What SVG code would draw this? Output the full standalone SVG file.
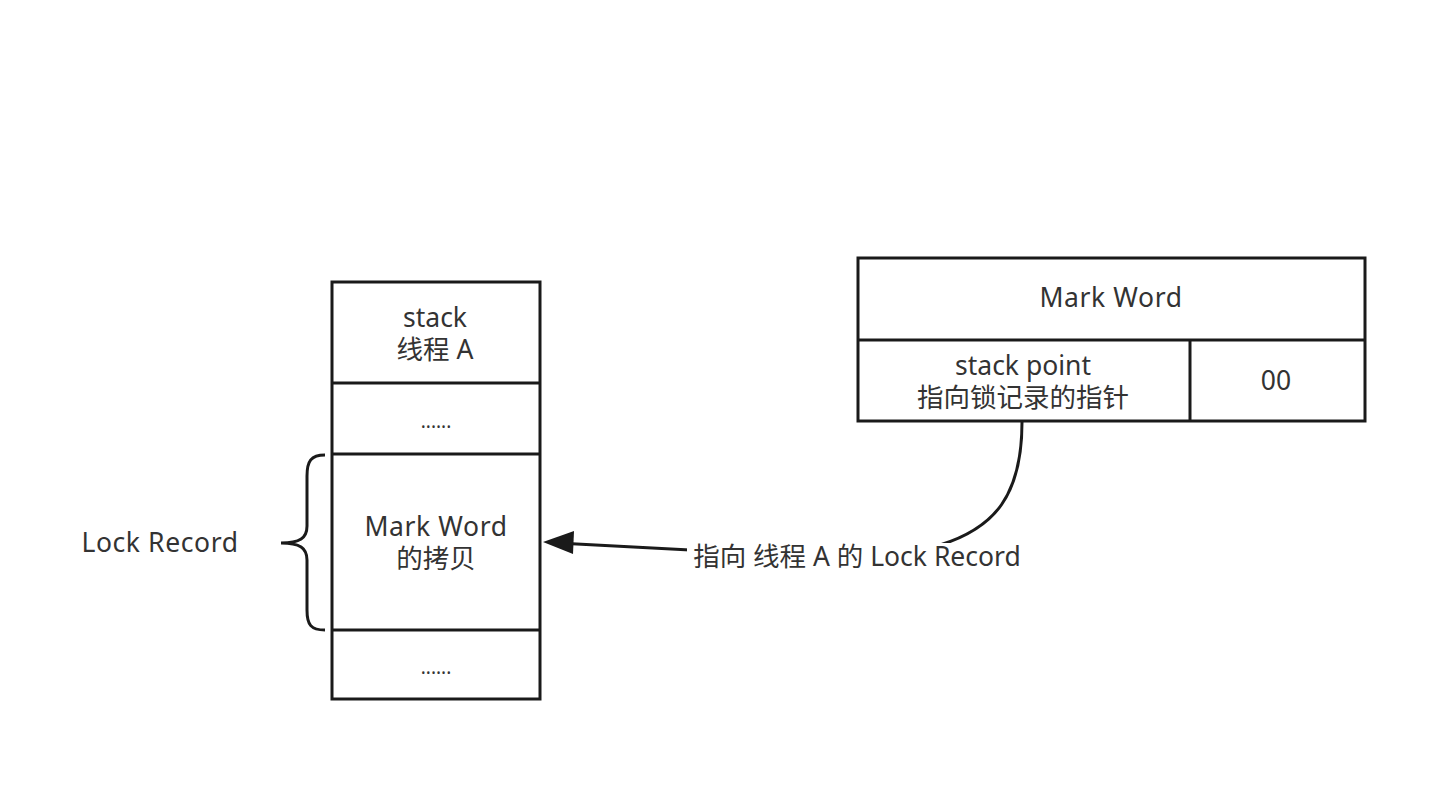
<svg xmlns="http://www.w3.org/2000/svg" width="1442" height="794" viewBox="0 0 1442 794">
<style>
.box{fill:#fff;stroke:#1a1a1a;stroke-width:3}
.ln{fill:none;stroke:#1a1a1a;stroke-width:3}
.t{font-family:"Noto Sans","Noto Sans CJK SC",sans-serif;font-size:26.5px;fill:#333;text-anchor:middle;dominant-baseline:central}
.w{letter-spacing:0.6px}
.d{font-family:"Noto Sans",sans-serif;font-size:19px;fill:#333;text-anchor:middle}
</style>
<rect width="1442" height="794" fill="#fff"/>
<g id="connectors">
<path class="ln" d="M1022,422 C1022,495 995,528 940,545 Q 820,553 690,550 L572,543.8"/>
<path d="M543,542 L574,531 L573,554 Z" fill="#1a1a1a"/>
</g>
<g id="stack">
<rect class="box" x="332" y="282" width="208" height="417"/>
<line class="ln" x1="332" y1="383" x2="540" y2="383"/>
<line class="ln" x1="332" y1="454" x2="540" y2="454"/>
<line class="ln" x1="332" y1="630" x2="540" y2="630"/>
<text class="t" x="435" y="317">stack</text>
<text class="t" x="435" y="349">线程 A</text>
<text class="d" x="436" y="428">......</text>
<text class="t w" x="436" y="526">Mark Word</text>
<text class="t" x="436" y="558">的拷贝</text>
<text class="d" x="436" y="674">......</text>
</g>
<g id="brace">
<path class="ln" d="M325,455 C311,455 307,461 307,476 L307,526 C307,538 300,543 281,543 C300,543 307,548 307,560 L307,610 C307,625 311,630 325,630"/>
</g>
<g id="lock-record-label">
<text class="t w" x="160" y="542">Lock Record</text>
</g>
<g id="markword">
<rect class="box" x="858" y="258" width="507" height="163"/>
<line class="ln" x1="858" y1="340" x2="1365" y2="340"/>
<line class="ln" x1="1190" y1="340" x2="1190" y2="421"/>
<text class="t w" x="1111" y="297">Mark Word</text>
<text class="t" x="1023" y="365">stack point</text>
<text class="t" x="1023" y="397">指向锁记录的指针</text>
<text class="t" x="1276" y="380">00</text>
</g>
<g id="edge-label">
<rect x="687" y="543" width="340" height="30" fill="#fff"/>
<text class="t" x="857" y="556">指向 线程 A 的 Lock Record</text>
</g>
</svg>
